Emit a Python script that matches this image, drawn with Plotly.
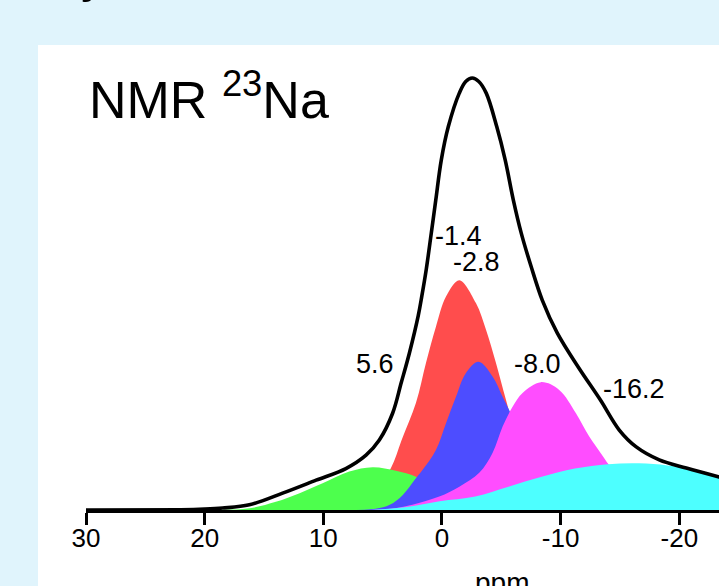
import plotly.graph_objects as go

# ---- data (ppm, relative intensity; envelope max = 100) ----
env_ppm = [45, 30, 22, 20, 18.5, 16.23, 13.43, 10.61, 8.1, 6.4, 5.28, 4.16, 3.43, 2.75, 2.0, 1.70,
           1.32, 0.90, 0.52, 0.06, -0.53, -1.46, -2.0, -2.55, -3.1, -3.73, -4.62, -5.33, -6.01,
           -6.68, -7.52, -8.45, -9.71, -11.48, -13.34, -14.94, -16.37, -18.31, -20.59, -23.28,
           -26, -30, -35]
env_int = [0, 0, 0.05, 0.2, 0.45, 1.2, 3.9, 6.9, 9.6, 12.7, 16.2, 22.4, 29.5, 36.3, 45.0, 49.5,
           55.8, 64.1, 71.8, 81.0, 88.7, 96.5, 99.2, 100, 99.2, 96.5, 88.7, 81.0, 71.8,
           64.1, 56.3, 48.6, 41.0, 33.1, 25.5, 18.5, 14.6, 11.6, 9.7, 7.7,
           5.8, 3.8, 2.0]

red_ppm = [9, 7, 5.5, 4.3, 3.4, 2.19, 1.35, 0.51, -0.34, -1.46, -2.86, -3.71, -4.55, -5.39, -6.5, -8, -10, -12]
red_int = [0, 1.5, 5, 9.7, 16.2, 24.8, 34.0, 42.4, 49.4, 53.2, 47.9, 41.7, 34.0, 25.5, 15, 6, 1.5, 0]

green_ppm = [21, 18.5, 16.2, 14.0, 12.0, 10.06, 7.81, 5.85, 3.88, 2.19, 0.5, -1.5, -3.5, -5]
green_int = [0, 0.05, 0.4, 1.9, 3.9, 6.2, 8.9, 9.9, 9.1, 7.7, 4.5, 1.5, 0.3, 0]

blue_ppm = [8, 5.6, 4.4, 3.3, 2.3, 1.63, 0.51, -0.34, -1.18, -2.02, -3.08, -4.26, -5.11, -5.67, -7, -8.5, -10, -12, -14]
blue_int = [0, 0.3, 1.2, 3.5, 7.0, 9.3, 13.9, 20.1, 26.2, 31.7, 34.3, 30.9, 26.2, 23.1, 15, 8, 3.5, 1, 0]

magenta_ppm = [6, 4, 2.5, 0.23, -1.46, -3.14, -4.26, -5.11, -5.95, -6.79, -8.34, -9.88, -11.29, -12.41,
               -13.4, -14.09, -15.5, -17, -19, -21]
magenta_int = [0, 0.4, 1.2, 3.1, 5.4, 8.6, 13.2, 19.3, 23.9, 27.1, 29.6, 27.8, 22.4, 17.0,
               13.1, 10.4, 6, 3, 1, 0]

cyan_ppm = [6, 3, 0.2, -2.8, -5.6, -8.4, -11.2, -14, -16.6, -19, -21.1, -23.3, -26, -30, -35]
cyan_int = [0, 0.7, 2.0, 3.1, 5.4, 7.7, 9.6, 10.6, 10.8, 10.3, 9.3, 7.6, 5.5, 3, 1]

peak_labels = ["5.6", "-1.4", "-2.8", "-8.0", "-16.2"]
tick_vals = [30, 20, 10, 0, -10, -20, -30, -40]
tick_text = ["30", "20", "10", "0", "-10", "-20", "-30", "-40"]

# ---- geometry ----
W, H = 719, 586
L, R, T, B = 86, 0, 10, 76
PW, PH = W - L - R, H - T - B
PX_PER_PPM = 11.866
PX_PER_INT = 4.32
X_RANGE = [30, 30 - PW / PX_PER_PPM]
Y_RANGE = [0, PH / PX_PER_INT]

def px(x):
    return (x - L) / PW

def py(y):
    return (H - B - y) / PH

FONT = "Liberation Sans, Arial, Helvetica, sans-serif"

fig = go.Figure()
components = [
    (red_ppm, red_int, "#FF4D4D"),
    (green_ppm, green_int, "#4DFF4D"),
    (blue_ppm, blue_int, "#4D4DFF"),
    (magenta_ppm, magenta_int, "#FF4DFF"),
    (cyan_ppm, cyan_int, "#4DFFFF"),
]
for xs, ys, col in components:
    fig.add_trace(go.Scatter(x=xs, y=ys, mode="lines", fill="tozeroy", fillcolor=col,
                             line=dict(color=col, width=0, shape="spline", smoothing=1.0),
                             hoverinfo="skip", showlegend=False))

fig.add_trace(go.Scatter(x=env_ppm, y=env_int, mode="lines",
                         line=dict(color="black", width=3.6, shape="spline", smoothing=1.0),
                         hoverinfo="skip", showlegend=False))

# label positions (pixel centres)
label_pos = [(375, 364), (458, 236), (476, 262), (537, 364), (634, 389)]
annotations = []
for txt, (lx, ly) in zip(peak_labels, label_pos):
    annotations.append(dict(text=txt, x=px(lx), y=py(ly), xref="paper", yref="paper",
                            xanchor="center", yanchor="middle", showarrow=False,
                            font=dict(family=FONT, size=27, color="black")))

annotations.append(dict(text="NMR <sup>23</sup>Na", x=px(87), y=py(96), xref="paper", yref="paper",
                        xanchor="left", yanchor="middle", showarrow=False,
                        font=dict(family=FONT, size=52, color="black")))
annotations.append(dict(text="ppm", x=px(502), y=py(582), xref="paper", yref="paper",
                        xanchor="center", yanchor="middle", showarrow=False,
                        font=dict(family=FONT, size=28, color="black")))
annotations.append(dict(text="y", x=px(94), y=py(-27), xref="paper", yref="paper",
                        xanchor="center", yanchor="middle", showarrow=False,
                        font=dict(family=FONT, size=52, color="black")))

fig.update_layout(
    width=W, height=H, autosize=False,
    margin=dict(l=L, r=R, t=T, b=B, pad=0),
    paper_bgcolor="#E0F4FC", plot_bgcolor="rgba(0,0,0,0)",
    shapes=[dict(type="rect", xref="paper", yref="paper", x0=px(38), x1=px(760),
                 y0=py(45), y1=py(640), fillcolor="white", line=dict(width=0), layer="below")],
    annotations=annotations,
    xaxis=dict(range=X_RANGE, tickvals=tick_vals, ticktext=tick_text, showgrid=False,
               zeroline=False, showline=True, linecolor="black", linewidth=3,
               ticks="outside", ticklen=12, tickwidth=3, tickcolor="black",
               ticklabelstandoff=-9,
               tickfont=dict(family=FONT, size=26, color="black")),
    yaxis=dict(range=Y_RANGE, visible=False, showgrid=False, zeroline=False),
)

fig.write_html("out.html")
